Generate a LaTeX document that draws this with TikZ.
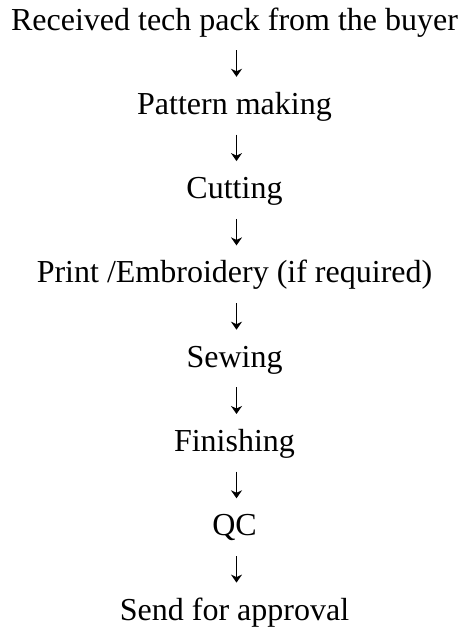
\documentclass[tikz,border=0pt]{standalone}
\usepackage{fontspec}
\setmainfont{Liberation Serif}
\usetikzlibrary{arrows.meta}
\tikzset{
  stepnode/.style={anchor=base, inner sep=0pt, text height=23bp, text depth=7bp,
    font=\fontsize{32bp}{38bp}\selectfont},
  conn/.style={line width=1.4bp, -{Stealth[length=8bp,width=11bp,inset=2.5bp]},
    shorten <=13bp, shorten >=14.3bp}
}
\begin{document}
\begin{tikzpicture}
\useasboundingbox (0,0) rectangle (463bp,-630bp);
\node[stepnode] (n1) at (234.5bp,-30bp) {Received tech pack from the buyer};
\node[stepnode] (n2) at (234.5bp,-114.3bp) {Pattern making};
\node[stepnode] (n3) at (234.5bp,-198.6bp) {Cutting};
\node[stepnode] (n4) at (234.5bp,-282.9bp) {Print /Embroidery (if required)};
\node[stepnode] (n5) at (234.5bp,-367.2bp) {Sewing};
\node[stepnode] (n6) at (234.5bp,-451.5bp) {Finishing};
\node[stepnode] (n7) at (234.5bp,-535.8bp) {QC};
\node[stepnode] (n8) at (234.5bp,-620.1bp) {Send for approval};
\foreach \a/\b in {n1/n2,n2/n3,n3/n4,n4/n5,n5/n6,n6/n7,n7/n8}
  \draw[conn] ([xshift=2bp]\a.south) -- ([xshift=2bp]\b.north);
\end{tikzpicture}
\end{document}
